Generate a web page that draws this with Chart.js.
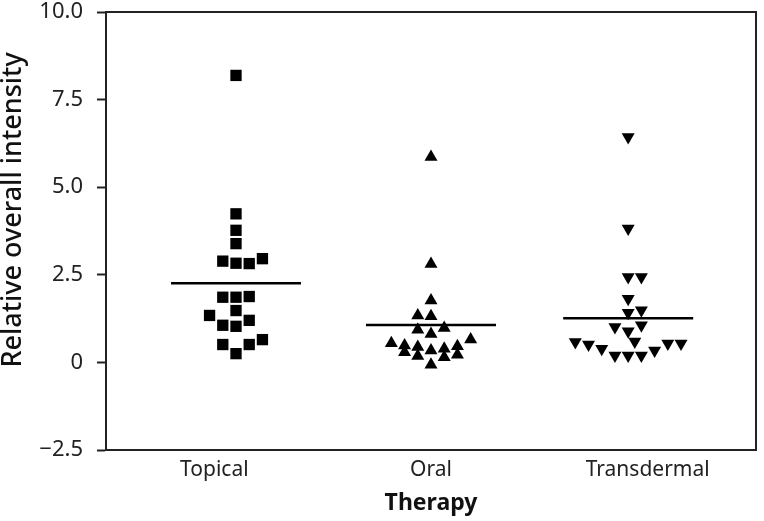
<!DOCTYPE html>
<html>
<head>
<meta charset="utf-8">
<script src="https://cdn.jsdelivr.net/npm/chart.js@4.4.1/dist/chart.umd.min.js"></script>
<style>
    html, body { margin: 0; padding: 0; background: #fff; }
    canvas { display: block; }
</style>
</head>
<body>
<canvas id="chart" width="764" height="521"></canvas>
<script>
// Groups on the x axis
const categories = ['Topical', 'Oral', 'Transdermal'];
const groupCenters = [1.1, 2.0, 2.91];
const columnStep = 0.061;

// Values (with the column each point sits in)
const topicalValues = [8.19, 4.24, 3.77, 3.39, 2.89, 2.83, 2.82, 2.96, 1.86, 1.86, 1.88, 1.34, 1.48, 1.06, 1.03, 1.20, 0.51, 0.51, 0.65, 0.25];
const topicalColumns = [0, 0, 0, 0, -1, 0, 1, 2, -1, 0, 1, -2, 0, -1, 0, 1, -1, 1, 2, 0];

const oralValues = [5.86, 2.81, 1.77, 1.34, 1.32, 0.93, 0.98, 0.81, 0.65, 0.55, 0.48, 0.44, 0.34, 0.39, 0.46, 0.29, 0.18, 0.15, 0.22, -0.07];
const oralColumns = [0, 0, 0, -1, 0, -1, 1, 0, 3, -3, -2, -1, 0, 1, 2, -2, -1, 1, 2, 0];

const transdermalValues = [6.43, 3.82, 2.44, 2.44, 1.82, 1.42, 1.49, 1.01, 0.89, 1.06, 0.60, 0.58, 0.51, 0.39, 0.20, 0.20, 0.20, 0.34, 0.54, 0.54];
const transdermalColumns = [0, 0, 0, 1, 0, 0, 1, -1, 0, 1, 0.5, -4, -3, -2, -1, 0, 1, 2, 3, 4];

// Group means (horizontal bars)
const meanValues = [2.26, 1.07, 1.26];
const meanHalfWidth = 0.3;

const yTicks = [-2.5, 0, 2.5, 5, 7.5, 10];

function toPoints(groupIndex, values, columns) {
    return values.map((v, i) => ({ x: groupCenters[groupIndex] + columns[i] * columnStep, y: v }));
}

function meanLine(groupIndex) {
    const c = groupCenters[groupIndex];
    return [
        { x: c - meanHalfWidth, y: meanValues[groupIndex] },
        { x: c + meanHalfWidth, y: meanValues[groupIndex] }
    ];
}

function formatTick(v) {
    if (v === 0) return '0';
    return (v < 0 ? '\u2212' : '') + Math.abs(v).toFixed(1);
}

// top and right edges of the plot box
const framePlugin = {
    id: 'frame',
    afterDraw(chart) {
        const { ctx, chartArea } = chart;
        ctx.save();
        ctx.strokeStyle = '#222';
        ctx.lineWidth = 2;
        ctx.beginPath();
        ctx.moveTo(chartArea.left, chartArea.top);
        ctx.lineTo(chartArea.right, chartArea.top);
        ctx.lineTo(chartArea.right, chartArea.bottom);
        ctx.stroke();
        ctx.restore();
    }
};

const font = "'Noto Sans', sans-serif";
const ctx = document.getElementById('chart').getContext('2d');

new Chart(ctx, {
    type: 'scatter',
    data: {
        datasets: [
            {
                label: categories[0],
                data: toPoints(0, topicalValues, topicalColumns),
                pointStyle: 'rect',
                pointRadius: 8,
                backgroundColor: '#000',
                borderWidth: 0
            },
            {
                label: categories[1],
                data: toPoints(1, oralValues, oralColumns),
                pointStyle: 'triangle',
                pointRadius: 7.5,
                backgroundColor: '#000',
                borderWidth: 0
            },
            {
                label: categories[2],
                data: toPoints(2, transdermalValues, transdermalColumns),
                pointStyle: 'triangle',
                pointRotation: 180,
                pointRadius: 7.5,
                backgroundColor: '#000',
                borderWidth: 0
            },
            ...[0, 1, 2].map(i => ({
                type: 'line',
                label: categories[i] + ' mean',
                data: meanLine(i),
                showLine: true,
                borderColor: '#000',
                borderWidth: 2.5,
                pointRadius: 0,
                fill: false
            }))
        ]
    },
    options: {
        responsive: false,
        animation: false,
        devicePixelRatio: 1,
        layout: { padding: { top: 12, right: 1, left: 0, bottom: 0 } },
        plugins: {
            legend: { display: false },
            tooltip: { enabled: false }
        },
        scales: {
            x: {
                type: 'linear',
                min: 0.5,
                max: 3.5,
                afterBuildTicks: scale => {
                    scale.ticks = categories.map((c, i) => ({ value: i + 1 }));
                },
                afterFit: scale => {
                    scale.height = 71;
                    scale.paddingLeft = 0;
                    scale.paddingRight = 0;
                },
                ticks: {
                    callback: v => categories[v - 1],
                    color: '#222',
                    font: { family: font, size: 21 },
                    padding: 7,
                    autoSkip: false,
                    maxRotation: 0
                },
                grid: { drawOnChartArea: false, drawTicks: false },
                border: { display: true, color: '#222', width: 2 },
                title: {
                    display: true,
                    text: 'Therapy',
                    color: '#111',
                    font: { family: font, size: 23, weight: 'bold' },
                    padding: { top: 0 }
                }
            },
            y: {
                min: -2.5,
                max: 10,
                afterBuildTicks: scale => {
                    scale.ticks = yTicks.map(v => ({ value: v }));
                },
                afterFit: scale => {
                    scale.width = 106;
                    scale.paddingTop = 0;
                    scale.paddingBottom = 0;
                },
                ticks: {
                    callback: v => formatTick(v),
                    color: '#222',
                    font: { family: font, size: 22 },
                    padding: 14
                },
                grid: {
                    drawOnChartArea: false,
                    drawTicks: true,
                    tickLength: 9,
                    tickWidth: 2,
                    tickColor: '#222'
                },
                border: { display: true, color: '#222', width: 2 },
                title: {
                    display: true,
                    // leading spaces push the label up a little, as in the original
                    text: '      Relative overall intensity',
                    color: '#111',
                    font: { family: font, size: 27, weight: '500', lineHeight: 1.0 },
                    padding: { top: 0, bottom: 0 }
                }
            }
        }
    },
    plugins: [framePlugin]
});
</script>
</body>
</html>
